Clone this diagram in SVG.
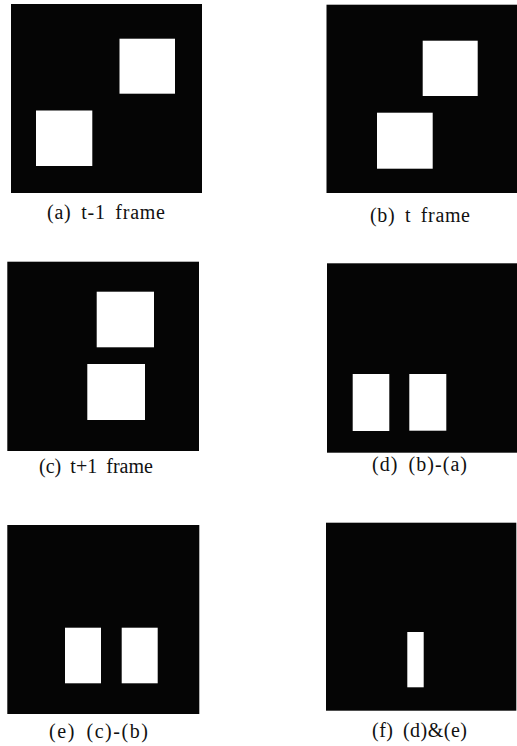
<svg xmlns="http://www.w3.org/2000/svg" width="517" height="746" viewBox="0 0 517 746">
<style>
.bg{fill:#050505}
.w{fill:#ffffff}
.lbl{font-family:"Liberation Serif","Times New Roman",serif;font-size:20px;fill:#111;word-spacing:4px}
</style>
<rect width="517" height="746" fill="#ffffff"/>
<g id="panel-a">
<rect class="bg" x="11" y="4" width="191" height="189"/>
<rect class="w" x="119.5" y="38.7" width="55.5" height="55"/>
<rect class="w" x="36" y="110.5" width="56.3" height="55.5"/>
<text class="lbl" x="47" y="219" textLength="118" lengthAdjust="spacing">(a) t-1 frame</text>
</g>
<g id="panel-b">
<rect class="bg" x="326.5" y="4.7" width="190.5" height="188.3"/>
<rect class="w" x="422.7" y="40.7" width="55" height="55.3"/>
<rect class="w" x="377" y="112.7" width="55.7" height="56"/>
<text class="lbl" x="370" y="221.5" textLength="100" lengthAdjust="spacing">(b) t frame</text>
</g>
<g id="panel-c">
<rect class="bg" x="7.3" y="261.7" width="191.7" height="189.3"/>
<rect class="w" x="96.7" y="291.7" width="57.3" height="55.6"/>
<rect class="w" x="87.3" y="364" width="57.7" height="56"/>
<text class="lbl" x="39" y="473" textLength="114" lengthAdjust="spacing">(c) t+1 frame</text>
</g>
<g id="panel-d">
<rect class="bg" x="327" y="263.3" width="190" height="189.4"/>
<rect class="w" x="352.7" y="374" width="36.6" height="57"/>
<rect class="w" x="409.3" y="374" width="37" height="56.7"/>
<text class="lbl" x="372" y="470.5" textLength="95" lengthAdjust="spacing">(d) (b)-(a)</text>
</g>
<g id="panel-e">
<rect class="bg" x="7.3" y="525" width="192" height="189"/>
<rect class="w" x="65" y="627.7" width="36" height="55.6"/>
<rect class="w" x="121.7" y="627.7" width="36" height="55.6"/>
<text class="lbl" x="49" y="738" textLength="99" lengthAdjust="spacing">(e) (c)-(b)</text>
</g>
<g id="panel-f">
<rect class="bg" x="326" y="522.7" width="190.3" height="188"/>
<rect class="w" x="407.3" y="632" width="16.4" height="55.3"/>
<text class="lbl" x="372" y="737" textLength="95" lengthAdjust="spacing">(f) (d)&amp;(e)</text>
</g>
<g id="connectors"/>
</svg>
